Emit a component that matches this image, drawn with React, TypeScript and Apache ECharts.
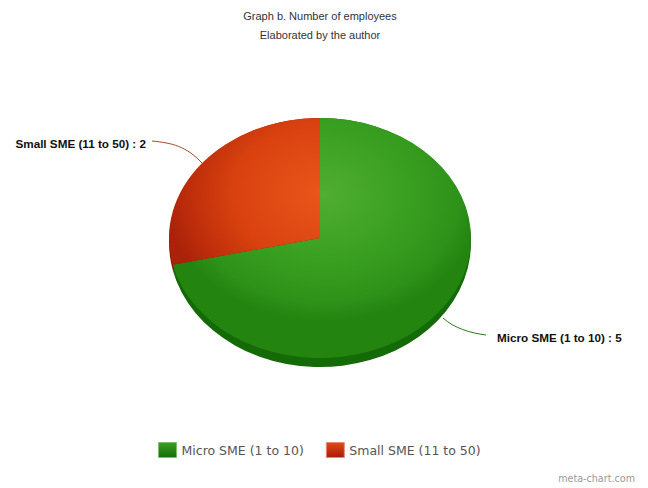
import React, { useEffect, useRef } from "react";
import * as echarts from "echarts";

const categories = ["Micro SME (1 to 10)", "Small SME (11 to 50)"];
const values = [5, 2];
const titleLines = ["Graph b. Number of employees", "Elaborated by the author"];
const credit = "meta-chart.com";

const total = values.reduce((a, b) => a + b, 0);
const CX = 320, CY = 238, RX = 151, RY = 120;
const SY = RY / RX;
const BASE_CY = 242.5, BASE_RY = 124.5;

const faces = [
  {
    stops: [
      [0, "#50ae31"],
      [0.45, "#389e20"],
      [0.68, "#2e9119"],
      [0.8, "#23840f"],
      [1, "#23840f"],
    ],
    base: "#146a06",
  },
  {
    stops: [
      [0, "#ea561b"],
      [0.45, "#d9420f"],
      [0.68, "#bd2d0b"],
      [0.8, "#aa2209"],
      [1, "#aa2209"],
    ],
    base: "#8f1a06",
  },
];

const leaders = [
  { text: { x: 497, y: 337, align: "left" }, curve: { x1: 443, y1: 318, x2: 486, y2: 335, cpx1: 454, cpy1: 328, cpx2: 470, cpy2: 333 }, color: "#2c7a1c" },
  { text: { x: 146, y: 143, align: "right" }, curve: { x1: 152, y1: 141, x2: 202, y2: 163, cpx1: 172, cpy1: 143, cpx2: 186, cpy2: 146 }, color: "#a5442a" },
];

function sliceAngles(index: number) {
  const before = values.slice(0, index).reduce((a, b) => a + b, 0);
  const start = -Math.PI / 2 + (before / total) * Math.PI * 2;
  const end = start + (values[index] / total) * Math.PI * 2;
  return { start, end };
}

const sectorShape = (index: number) => {
  const { start, end } = sliceAngles(index);
  return { cx: 0, cy: 0, r: RX, r0: 0, startAngle: start, endAngle: end, clockwise: true };
};

const renderBase = () => ({
  type: "group",
  children: values.map((_v, i) => ({
    type: "sector",
    x: CX,
    y: BASE_CY,
    scaleY: BASE_RY / RX,
    shape: sectorShape(i),
    style: { fill: faces[i].base },
  })),
});

const renderSlice = (index: number) => (_params: any, api: any) => {
  const value = api.value(0);
  const face = faces[index];
  const lead = leaders[index];
  return {
    type: "group",
    children: [
      {
        type: "sector",
        x: CX,
        y: CY,
        scaleY: SY,
        shape: sectorShape(index),
        style: {
          fill: {
            type: "radial",
            global: true,
            x: 4,
            y: -55,
            r: 200,
            colorStops: face.stops.map(([offset, color]) => ({ offset, color })),
          },
        },
      },
      {
        type: "bezierCurve",
        shape: lead.curve,
        style: { stroke: lead.color, lineWidth: 1, fill: "none" },
      },
      {
        type: "text",
        x: lead.text.x,
        y: lead.text.y,
        style: {
          text: `${categories[index]} : ${value}`,
          fill: "#111111",
          font: "bold 11.7px 'Liberation Sans', Arial, sans-serif",
          align: lead.text.align,
          verticalAlign: "middle",
        },
      },
    ],
  };
};

const swatch = (a: string, b: string) => ({
  type: "linear", x: 0, y: 0, x2: 0, y2: 1,
  colorStops: [{ offset: 0, color: a }, { offset: 1, color: b }],
});

export default function App() {
  const ref = useRef<HTMLDivElement>(null);
  useEffect(() => {
    document.body.style.margin = "0";
    const chart = echarts.init(ref.current!, undefined, { renderer: "svg" });
    chart.setOption({
      animation: false,
      backgroundColor: "#ffffff",
      legend: {
        left: 158,
        top: 442,
        padding: 0,
        itemWidth: 18,
        itemHeight: 15,
        itemGap: 22,
        icon: "rect",
        textStyle: { color: "#555555", fontSize: 12.5, fontFamily: "'DejaVu Sans', sans-serif" },
        data: [
          { name: categories[0], itemStyle: { color: swatch("#3c9e26", "#14700a"), borderColor: "#7cc06a", borderWidth: 1 } },
          { name: categories[1], itemStyle: { color: swatch("#e2481a", "#a81c08"), borderColor: "#e88a70", borderWidth: 1 } },
        ],
      },
      series: [
        {
          type: "custom",
          name: "depth",
          coordinateSystem: "none",
          data: [[total]],
          renderItem: renderBase,
          silent: true,
        },
        ...categories.map((name, i) => ({
          type: "custom",
          name,
          coordinateSystem: "none",
          data: [[values[i]]],
          renderItem: renderSlice(i),
          silent: true,
        })),
      ],
      graphic: [
        {
          type: "text", x: 320, y: 16,
          style: { text: titleLines[0], fill: "#333333", font: "11px 'Liberation Sans', Arial, sans-serif", align: "center", verticalAlign: "middle" },
        },
        {
          type: "text", x: 320, y: 35,
          style: { text: titleLines[1], fill: "#333333", font: "11px 'Liberation Sans', Arial, sans-serif", align: "center", verticalAlign: "middle" },
        },
        {
          type: "text", x: 635, y: 478,
          style: { text: credit, fill: "#999999", font: "9.6px 'DejaVu Sans', sans-serif", align: "right", verticalAlign: "middle" },
        },
      ],
    });
    return () => chart.dispose();
  }, []);
  return <div ref={ref} style={{ width: 648, height: 488 }} />;
}
